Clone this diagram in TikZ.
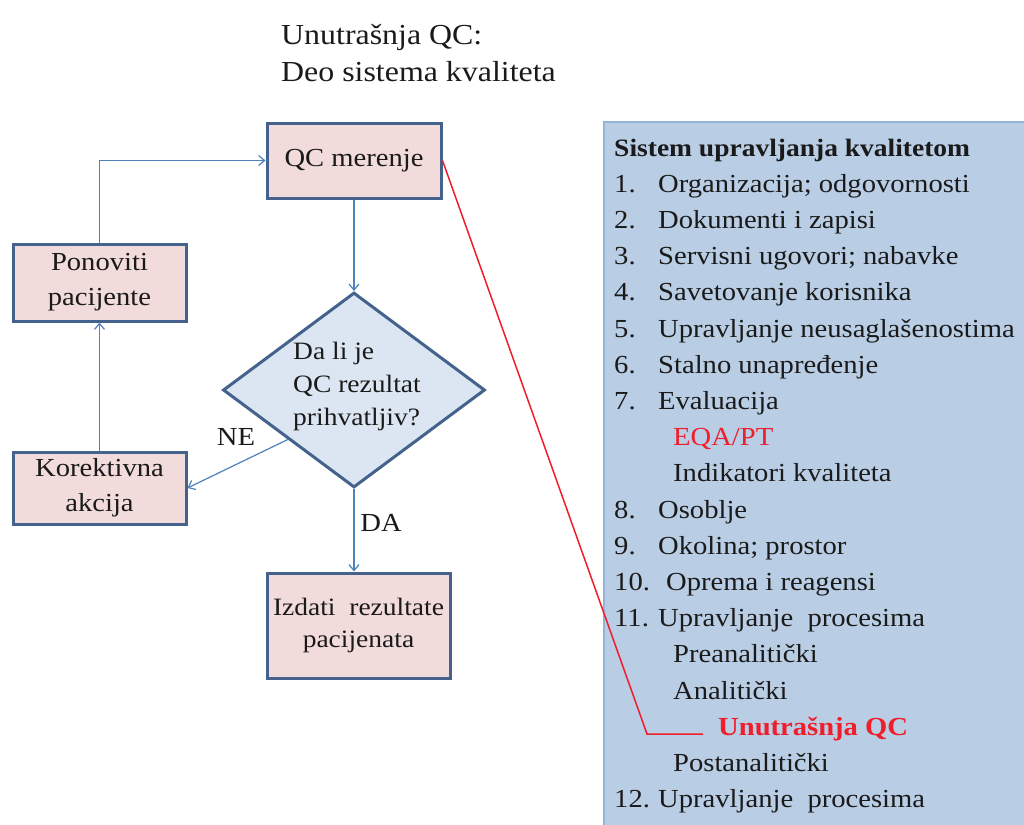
\documentclass[tikz,border=0pt]{standalone}
\usepackage{fontspec}
\setmainfont[FakeStretch=1.1]{Liberation Serif}
\usetikzlibrary{shapes.geometric,arrows.meta}
\definecolor{boxfill}{HTML}{F2DCDB}
\definecolor{boxdraw}{HTML}{45628C}
\definecolor{diafill}{HTML}{DCE6F2}
\definecolor{arrowc}{HTML}{4F81BD}
\definecolor{panelfill}{HTML}{B9CDE5}
\definecolor{paneldraw}{HTML}{95B3D7}
\definecolor{txt}{HTML}{1A1A1A}
\definecolor{redc}{HTML}{F01E2A}
\tikzset{
  flowbox/.style={draw=boxdraw, line width=3pt, fill=boxfill, inner sep=0pt, align=center, text=txt, font=\fontsize{26}{35}\selectfont},
  decision/.style={diamond, draw=boxdraw, line width=3pt, fill=diafill, inner sep=0pt},
  dtext/.style={align=left, inner sep=0pt, text=txt, font=\fontsize{25}{33}\selectfont},
  flowarrow/.style={draw=arrowc, line width=1.2pt, -{Straight Barb[length=6pt,width=10pt]}},
  lbl/.style={text=txt, font=\fontsize{26}{30}\selectfont, inner sep=0pt},
  pitem/.style={anchor=base west, inner sep=0pt, text=txt, font=\fontsize{26}{30}\selectfont},
  ptitle/.style={anchor=base west, inner sep=0pt, text=txt, font=\fontsize{25}{30}\selectfont\bfseries},
  ttl/.style={anchor=base west, inner sep=0pt, text=txt, font=\fontsize{29}{37}\selectfont},
}
\begin{document}
\begin{tikzpicture}[x=1pt,y=-1pt]
\useasboundingbox (0,0) rectangle (1024,824);
\fill[white] (0,0) rectangle (1024,824);
% title
\node[ttl] (title1) at (281,45) {Unutrašnja QC:};
\node[ttl] (title2) at (281,82) {Deo sistema kvaliteta};
% flowchart
\node[flowbox, minimum width=174pt, minimum height=75pt] (qc) at (354,160.5) {QC merenje};
\node[flowbox, minimum width=173pt, minimum height=77pt] (pon) at (99.5,282.5) {Ponoviti\\pacijente};
\node[flowbox, minimum width=173pt, minimum height=72pt] (kor) at (99.5,488) {Korektivna\\akcija};
\node[flowbox, minimum width=183pt, minimum height=105pt, font=\fontsize{25}{32}\selectfont] (izd) at (358.5,625.5) {Izdati\ \ rezultate\\pacijenata};
\node[decision, minimum width=262pt, minimum height=195pt] (dia) at (354,390) {};
\node[dtext] (diatext) at (357,386) {Da li je\\QC rezultat\\prihvatljiv?};
\draw[flowarrow] (pon.north) |- (qc.west);
\draw[flowarrow] (qc.south) -- (dia.north);
\draw[flowarrow] (kor.north) -- (pon.south);
\draw[flowarrow] (dia.south west) -- (kor.east);
\draw[flowarrow] (dia.south) -- (dia.south |- izd.north);
\node[lbl] (ne) at (236,437) {NE};
\node[lbl] (da) at (381,523) {DA};
% panel
\node[draw=paneldraw, line width=1.5pt, fill=panelfill, anchor=north west, minimum width=425pt, minimum height=710pt, inner sep=0pt] (panel) at (603,121) {};
\node[ptitle] (pt) at (614,156) {Sistem upravljanja kvalitetom};
\foreach \n/\t/\i in {1./Organizacija; odgovornosti/1, 2./Dokumenti i zapisi/2, 3./Servisni ugovori; nabavke/3, 4./Savetovanje korisnika/4, 5./Upravljanje neusaglašenostima/5, 6./Stalno unapređenje/6, 7./Evaluacija/7, 8./Osoblje/10, 9./Okolina; prostor/11}{
  \node[pitem] (n\i) at (614,156+36.2*\i) {\n};
  \node[pitem] (t\i) at (658,156+36.2*\i) {\t};
}
\node[pitem, text=redc] (t8) at (673,156+36.2*8) {EQA/PT};
\node[pitem] (t9) at (673,156+36.2*9) {Indikatori kvaliteta};
\node[pitem] (n12) at (614,156+36.2*12) {10.};
\node[pitem] (t12) at (666,156+36.2*12) {Oprema i reagensi};
\node[pitem] (n13) at (614,156+36.2*13) {11.};
\node[pitem] (t13) at (658,156+36.2*13) {Upravljanje\ \ procesima};
\node[pitem] (t14) at (673,156+36.2*14) {Preanalitički};
\node[pitem] (t15) at (673,156+36.2*15) {Analitički};
\node[pitem, text=redc, font=\fontsize{26}{30}\selectfont\bfseries] (uqc) at (718,156+36.2*16) {Unutrašnja QC};
\node[pitem] (t17) at (673,156+36.2*17) {Postanalitički};
\node[pitem] (n18) at (614,156+36.2*18) {12.};
\node[pitem] (t18) at (658,156+36.2*18) {Upravljanje\ \ procesima};
% red connector
\coordinate (bend) at (647,734);
\coordinate (redend) at (703,734);
\draw[redc, line width=1.5pt] (qc.east) -- (bend) -- (redend);
\end{tikzpicture}
\end{document}
